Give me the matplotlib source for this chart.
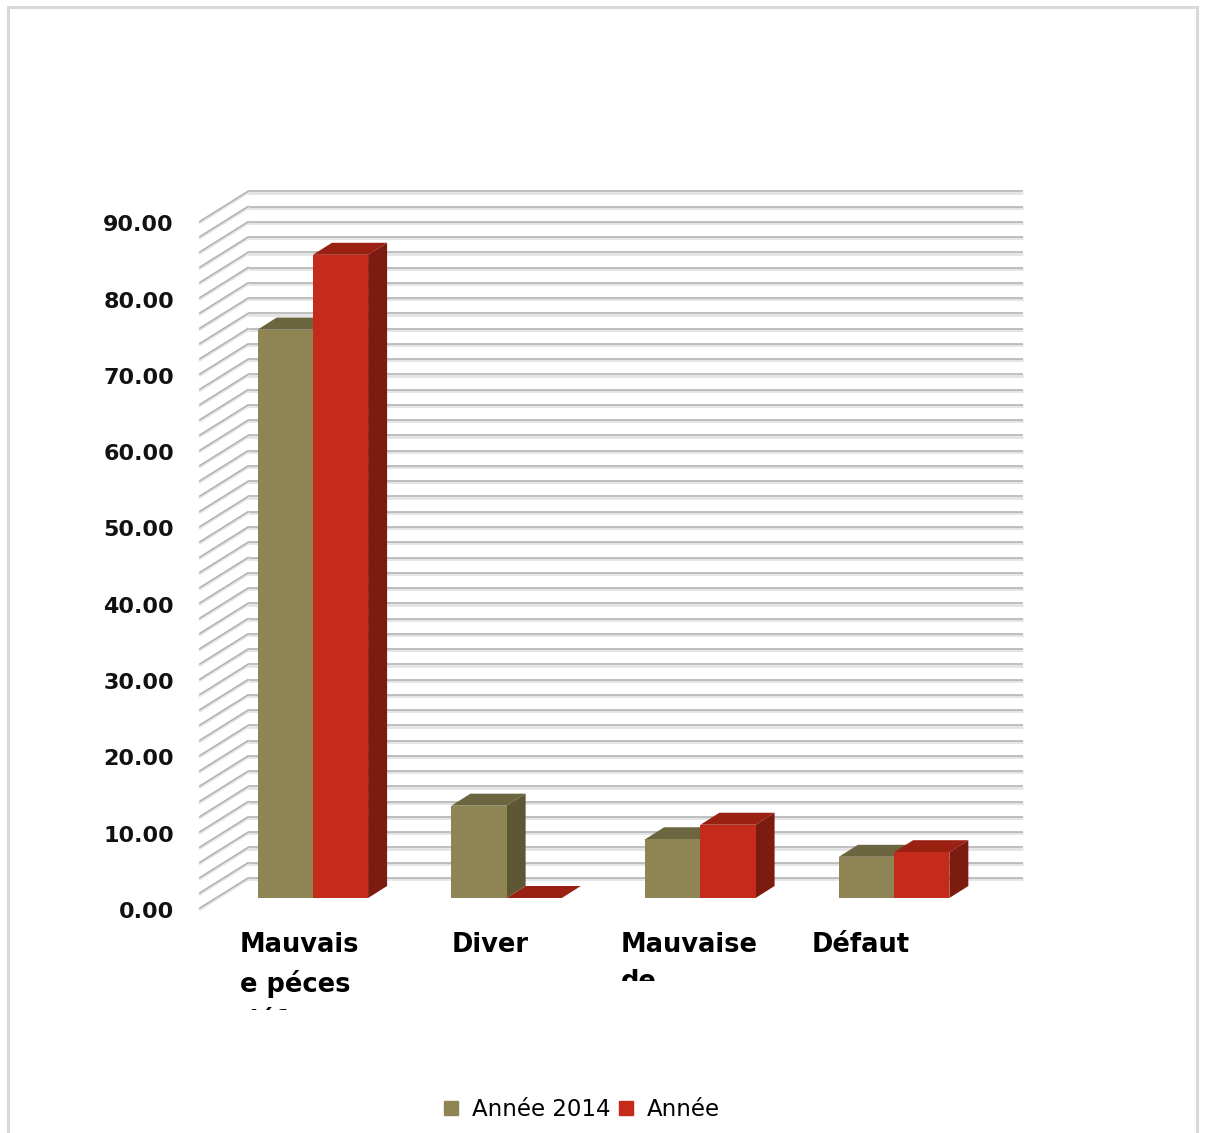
import numpy as np
import matplotlib
matplotlib.use("Agg")
import matplotlib.pyplot as plt
import matplotlib.transforms as mtransforms
from matplotlib.patches import Polygon, Rectangle
from matplotlib.lines import Line2D

# data
categories = ["Mauvais\ne péces\ndéfectu", "Diver", "Mauvaise\nde", "Défaut"]
series_names = ["Année 2014", "Année"]
annee_2014 = [74.5, 12.1, 7.7, 5.4]
annee = [84.3, 0.0, 9.6, 6.0]
y_ticks = np.arange(0, 91, 10)
grid_vals = np.arange(0, 91, 2)

# colours: front, top, side
olive = ("#8f8453", "#6c6640", "#5d5736")
red = ("#c42b1a", "#9a2112", "#7c1b10")

W, H, DPI = 1205, 1133, 100
fig = plt.figure(figsize=(W / DPI, H / DPI), dpi=DPI)
fig.patch.set_facecolor("white")

# axes = plane of the bar front faces
ax = fig.add_axes([216 / W, (H - 898) / H, 775 / W, 686.7 / H])
ax.set_xlim(-0.5, 3.5)
ax.set_ylim(0, 90)
ax.axis("off")
ident = mtransforms.IdentityTransform()

# depth offsets in pixels (display coords, y up)
back = (32, 20)
front = (-16, -10)
depth = (19, 12)

tr_back = mtransforms.offset_copy(ax.transData, fig, x=back[0], y=back[1], units="dots")
tr_back_sh = mtransforms.offset_copy(ax.transData, fig, x=back[0], y=back[1] - 1.2, units="dots")

# back wall gridlines
x0, x1 = ax.get_xlim()
ax.hlines(grid_vals, x0, x1, transform=tr_back_sh, colors="#e4e4e4", lw=2.0, clip_on=False, zorder=1)
ax.hlines(grid_vals, x0, x1, transform=tr_back, colors="#b4b4b4", lw=1.2, clip_on=False, zorder=1)

# side wall diagonals
for v in grid_vals:
    px, py = ax.transData.transform((x0, v))
    xs = [px + front[0], px + back[0]]
    ys = [py + front[1], py + back[1]]
    ax.add_line(Line2D(xs, np.array(ys) - 1.2, transform=ident, color="#e4e4e4", lw=2.0, zorder=1, clip_on=False))
    ax.add_line(Line2D(xs, ys, transform=ident, color="#b4b4b4", lw=1.2, zorder=1, clip_on=False))

# bars with 3d faces
w = 0.285
x = np.arange(len(categories))


def bar3d(xc, h, cols, z):
    ax.bar(xc, h, w, color=cols[0], edgecolor="none", zorder=z, clip_on=False)
    (lx, by) = ax.transData.transform((xc - w / 2, 0))
    (rx, ty) = ax.transData.transform((xc + w / 2, h))
    dx, dy = depth
    top = [(lx, ty), (rx, ty), (rx + dx, ty + dy), (lx + dx, ty + dy)]
    side = [(rx, by), (rx, ty), (rx + dx, ty + dy), (rx + dx, by + dy)]
    ax.add_patch(Polygon(side, closed=True, transform=ident, facecolor=cols[2], edgecolor="none",
                         zorder=z - 0.5, clip_on=False))
    ax.add_patch(Polygon(top, closed=True, transform=ident, facecolor=cols[1], edgecolor="none",
                         zorder=z - 0.5, clip_on=False))


for i in range(len(categories)):
    bar3d(x[i] - w / 2, annee_2014[i], olive, 3 + 2 * i)
    bar3d(x[i] + w / 2, annee[i], red, 4 + 2 * i)

# y tick labels on the front plane
tr_ylab = mtransforms.offset_copy(ax.transData, fig, x=front[0] - 26, y=front[1] - 4, units="dots")
for t in y_ticks:
    ax.text(x0, t, f"{t:.2f}", transform=tr_ylab, ha="right", va="center",
            fontsize=16, fontweight="bold", color="#111111")

# category labels (clipped like the original)
nudge = [3, 0, 5, -17]
clip_bottom = [1010, 1010, 981, 1010]
for i, lab in enumerate(categories):
    tr_lab = mtransforms.offset_copy(ax.transData, fig, x=front[0] + nudge[i], y=front[1] - 24, units="dots")
    t = fig.text(0, 0, lab, ha="center", va="top", multialignment="left", fontsize=18.5,
                 fontweight="bold", linespacing=1.55, color="black")
    t.set_transform(tr_lab)
    t.set_x(x[i])
    t.set_y(0)
    t.set_clip_box(mtransforms.Bbox.from_extents(0, H - clip_bottom[i], W, H))
    t.set_clip_on(True)

# legend
handles = [Line2D([], [], marker="s", linestyle="none", markersize=9.5, color=olive[0]),
           Line2D([], [], marker="s", linestyle="none", markersize=9.5, color=red[0])]
fig.legend(handles, series_names, loc="center", bbox_to_anchor=(581 / W, 1 - 1110 / H),
           ncol=2, frameon=False, fontsize=16.5, handlelength=0.8, handletextpad=0.5,
           columnspacing=0.3)

# outer chart border
fig.add_artist(Rectangle((8 / W, -0.05), 1189 / W, 1 - 7 / H + 0.05, transform=fig.transFigure,
                         fill=False, edgecolor="#d9d9d9", lw=2.2))

fig.savefig("out.png", dpi=DPI)
